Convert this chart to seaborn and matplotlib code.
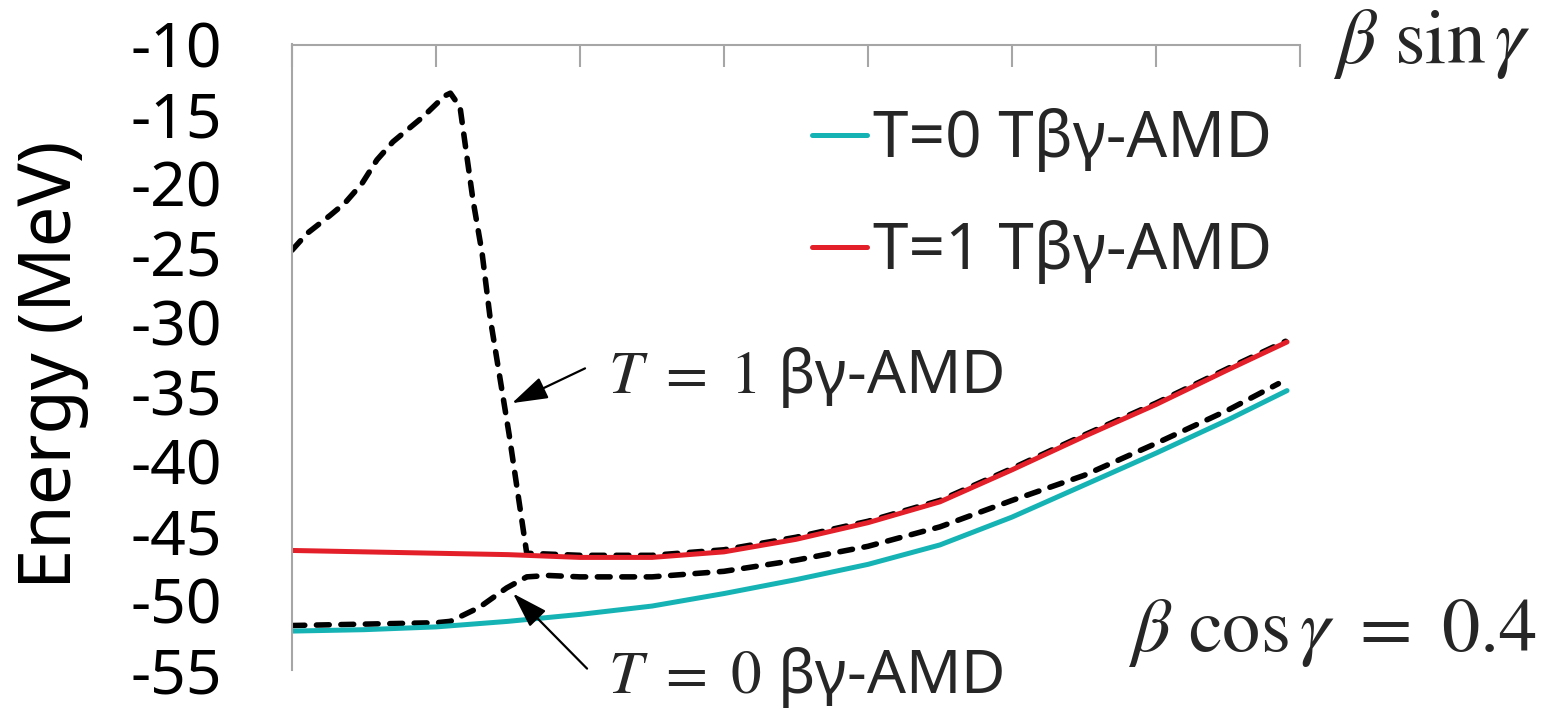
import matplotlib
matplotlib.use("Agg")
import matplotlib.pyplot as plt
import seaborn as sns

# Energy curves versus beta*sin(gamma) at fixed beta*cos(gamma) = 0.4
x_t0_tbg = [0.0, 0.05, 0.10, 0.15, 0.20, 0.25, 0.30, 0.35, 0.40, 0.45, 0.50, 0.55, 0.60, 0.65, 0.691]
e_t0_tbg = [-52.2, -52.1, -51.9, -51.5, -51.0, -50.4, -49.5, -48.5, -47.4, -46.0, -44.0, -41.7, -39.4, -37.0, -34.9]

x_t1_tbg = [0.0, 0.05, 0.10, 0.15, 0.20, 0.25, 0.30, 0.35, 0.40, 0.45, 0.50, 0.55, 0.60, 0.65, 0.691]
e_t1_tbg = [-46.4, -46.5, -46.6, -46.7, -46.9, -46.9, -46.5, -45.6, -44.4, -42.9, -40.6, -38.2, -35.9, -33.4, -31.4]

x_t0_bg = [0.0, 0.05, 0.10, 0.11, 0.13, 0.149, 0.163, 0.178, 0.20, 0.25, 0.30, 0.35, 0.40, 0.45, 0.50, 0.55, 0.60, 0.65, 0.685]
e_t0_bg = [-51.8, -51.7, -51.6, -51.5, -50.5, -49.1, -48.3, -48.2, -48.3, -48.3, -47.9, -47.1, -46.1, -44.7, -42.8, -41.0, -38.7, -36.3, -34.4]

x_t1_bg = [0.0, 0.0104, 0.0264, 0.0368, 0.0486, 0.059, 0.0701, 0.091, 0.106, 0.110, 0.1167, 0.1215, 0.1257, 0.132,
           0.1375, 0.1507, 0.163, 0.20, 0.25, 0.30, 0.35, 0.40, 0.45, 0.50, 0.55, 0.60, 0.65, 0.69]
e_t1_bg = [-24.8, -23.6, -22.3, -21.4, -20.0, -18.3, -17.0, -15.2, -13.7, -13.5, -14.5, -18.1, -21.2, -25.0,
           -29.6, -38.0, -46.6, -46.75, -46.75, -46.35, -45.45, -44.3, -42.8, -40.5, -38.1, -35.8, -33.3, -31.35]

y_ticks = [-55, -50, -45, -40, -35, -30, -25, -20, -15, -10]
x_ticks = [0.0, 0.1, 0.2, 0.3, 0.4, 0.5, 0.6, 0.7]

CYAN = "#16b3b5"
RED = "#e3202a"
GRAY = "#a6a6a6"

sns.set_theme(style="white")
plt.rcParams["font.family"] = ["Noto Sans", "DejaVu Sans"]
plt.rcParams["mathtext.fontset"] = "stix"
plt.rcParams["axes.unicode_minus"] = False

fig = plt.figure(figsize=(15.53, 7.09), dpi=100)
ax = fig.add_axes([292 / 1553, 1 - 670 / 709, (1300 - 292) / 1553, (670 - 44.5) / 709])

# dashed beta-gamma AMD curves underneath the solid T-beta-gamma curves
for xs, es in [(x_t0_bg, e_t0_bg), (x_t1_bg, e_t1_bg)]:
    line = sns.lineplot(x=xs, y=es, ax=ax, color="black", lw=4.0, legend=False,
                        estimator=None).lines[-1]
    line.set_dashes((2.3, 2.1))
    line.set_dash_capstyle("round")
    line.set_dash_joinstyle("round")

sns.lineplot(x=x_t0_tbg, y=e_t0_tbg, ax=ax, color=CYAN, lw=3.6, label="T=0 Tβγ-AMD",
             estimator=None, solid_capstyle="round")
sns.lineplot(x=x_t1_tbg, y=e_t1_tbg, ax=ax, color=RED, lw=3.6, label="T=1 Tβγ-AMD",
             estimator=None, solid_capstyle="round")

ax.set_xlim(0, 0.7)
ax.set_ylim(-55, -10)
ax.set_xticks(x_ticks)
ax.set_yticks(y_ticks)
ax.set_yticklabels([str(v) for v in y_ticks])
ax.xaxis.tick_top()
ax.tick_params(axis="x", direction="in", length=16, width=1.5, color=GRAY,
               labeltop=False, labelbottom=False)
ax.tick_params(axis="y", direction="in", length=16.5, width=1.5, color=GRAY,
               labelsize=45, pad=50, labelcolor="black")
for side in ("bottom", "right"):
    ax.spines[side].set_visible(False)
for side in ("top", "left"):
    ax.spines[side].set_color(GRAY)
    ax.spines[side].set_linewidth(1.5)
ax.grid(False)

fig.text(52 / 1553, 1 - 365 / 709, "Energy (MeV)", rotation=90, ha="center", va="center",
         fontsize=52, color="black")

handles, labels = ax.get_legend_handles_labels()
leg = ax.legend(handles, labels, loc="upper left", bbox_to_anchor=(812 / 1553, 1 - 108 / 709),
                bbox_transform=fig.transFigure, frameon=False, fontsize=46,
                handlelength=0.86, handletextpad=0.1, labelspacing=0.75,
                borderpad=0, borderaxespad=0)
for h in leg.get_lines():
    h.set_linewidth(3.6)

arrow_kw = dict(arrowstyle="-|>,head_length=1.1,head_width=0.35", color="black",
                lw=1.6, mutation_scale=20, shrinkA=0, shrinkB=0)
ax.annotate("", xy=(0.1528, -35.8), xytext=(0.2035, -33.3), arrowprops=arrow_kw)
ax.annotate("", xy=(0.1535, -49.5), xytext=(0.2049, -54.9), arrowprops=arrow_kw,
            annotation_clip=False)
ax.text(0.2194, -35.1, r"$T\ =\ 1$ βγ-AMD", fontsize=44, ha="left", va="baseline")
ax.text(0.2194, -56.65, r"$T\ =\ 0$ βγ-AMD", fontsize=44, ha="left", va="baseline",
        clip_on=False)

fig.text(1333 / 1553, 1 - 63 / 709, r"$\beta\ \sin\gamma$", fontsize=56, ha="left",
         va="baseline")
fig.text(1537 / 1553, 1 - 651 / 709, r"$\beta\ \cos\gamma\ =\ 0.4$", fontsize=55,
         ha="right", va="baseline")

fig.savefig("out.png", dpi=100, facecolor="white")
